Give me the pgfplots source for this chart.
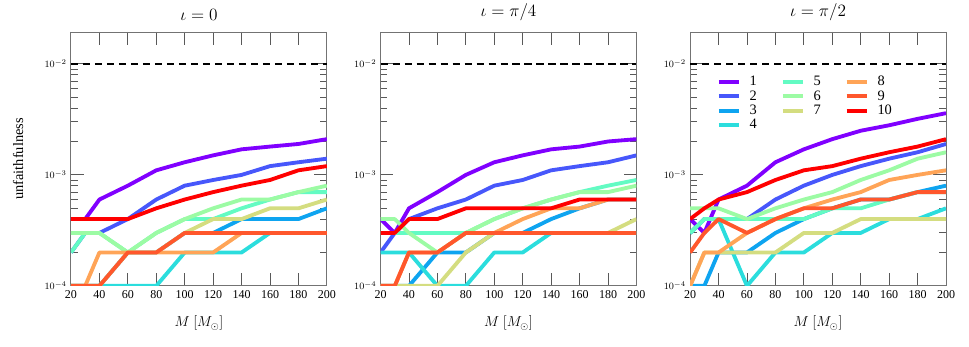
\documentclass[border=0pt]{standalone}
\usepackage{fontspec}
\setmainfont{Liberation Serif}
\usepackage{pgfplots}
\usepackage{pgfplotstable}
\pgfplotsset{compat=1.18}
\usepgfplotslibrary{groupplots}

% matplotlib "rainbow", 10 samples
\definecolor{c1}{RGB}{128,0,255}
\definecolor{c2}{RGB}{71,87,251}
\definecolor{c3}{RGB}{14,164,240}
\definecolor{c4}{RGB}{43,221,221}
\definecolor{c5}{RGB}{99,251,195}
\definecolor{c6}{RGB}{156,251,164}
\definecolor{c7}{RGB}{212,221,128}
\definecolor{c8}{RGB}{255,164,87}
\definecolor{c9}{RGB}{255,87,44}
\definecolor{c10}{RGB}{255,0,0}

% iota = 0
\pgfplotstableread{
M   c1     c2     c3    c4    c5    c6    c7    c8    c9    c10
20  4e-4   2e-4   1e-4  1e-4  2e-4  3e-4  1e-4  1e-4  1e-4  4e-4
30  4e-4   3e-4   1e-4  1e-4  3e-4  3e-4  1e-4  1e-4  1e-4  4e-4
40  6e-4   3e-4   1e-4  1e-4  3e-4  3e-4  1e-4  2e-4  1e-4  4e-4
60  8e-4   4e-4   2e-4  1e-4  2e-4  2e-4  2e-4  2e-4  2e-4  4e-4
80  11e-4  6e-4   2e-4  1e-4  3e-4  3e-4  2e-4  2e-4  2e-4  5e-4
100 13e-4  8e-4   3e-4  2e-4  4e-4  4e-4  3e-4  2e-4  3e-4  6e-4
120 15e-4  9e-4   3e-4  2e-4  4e-4  5e-4  4e-4  2e-4  3e-4  7e-4
140 17e-4  10e-4  4e-4  2e-4  5e-4  6e-4  4e-4  3e-4  3e-4  8e-4
160 18e-4  12e-4  4e-4  3e-4  6e-4  6e-4  5e-4  3e-4  3e-4  9e-4
180 19e-4  13e-4  4e-4  3e-4  7e-4  7e-4  5e-4  3e-4  3e-4  11e-4
200 21e-4  14e-4  5e-4  3e-4  7e-4  8e-4  6e-4  3e-4  3e-4  12e-4
}\iotazero

% iota = pi/4
\pgfplotstableread{
M   c1     c2     c3    c4    c5    c6    c7    c8    c9    c10
20  4e-4   2e-4   1e-4  2e-4  3e-4  4e-4  1e-4  1e-4  1e-4  3e-4
30  3e-4   3e-4   1e-4  2e-4  3e-4  4e-4  1e-4  1e-4  1e-4  3e-4
40  5e-4   4e-4   1e-4  2e-4  3e-4  3e-4  1e-4  2e-4  2e-4  4e-4
60  7e-4   5e-4   2e-4  1e-4  3e-4  2e-4  1e-4  2e-4  2e-4  4e-4
80  10e-4  6e-4   2e-4  1e-4  3e-4  3e-4  2e-4  3e-4  3e-4  5e-4
100 13e-4  8e-4   3e-4  2e-4  4e-4  4e-4  3e-4  3e-4  3e-4  5e-4
120 15e-4  9e-4   3e-4  2e-4  5e-4  5e-4  3e-4  4e-4  3e-4  5e-4
140 17e-4  11e-4  4e-4  3e-4  6e-4  6e-4  3e-4  5e-4  3e-4  5e-4
160 18e-4  12e-4  5e-4  3e-4  7e-4  7e-4  3e-4  5e-4  3e-4  6e-4
180 20e-4  13e-4  6e-4  3e-4  8e-4  7e-4  3e-4  6e-4  3e-4  6e-4
200 21e-4  15e-4  6e-4  3e-4  9e-4  8e-4  4e-4  6e-4  3e-4  6e-4
}\iotaquarter

% iota = pi/2
\pgfplotstableread{
M   c1     c2     c3    c4    c5    c6     c7    c8     c9    c10
20  4e-4   3e-4   1e-4  3e-4  3e-4  5e-4   1e-4  1e-4   2e-4  4e-4
30  3e-4   4e-4   1e-4  4e-4  4e-4  5e-4   2e-4  2e-4   3e-4  5e-4
40  6e-4   4e-4   2e-4  4e-4  4e-4  5e-4   2e-4  2e-4   4e-4  6e-4
60  8e-4   4e-4   2e-4  1e-4  4e-4  4e-4   2e-4  3e-4   3e-4  7e-4
80  13e-4  6e-4   3e-4  2e-4  4e-4  5e-4   2e-4  4e-4   4e-4  9e-4
100 17e-4  8e-4   4e-4  2e-4  4e-4  6e-4   3e-4  5e-4   5e-4  11e-4
120 21e-4  10e-4  5e-4  3e-4  5e-4  7e-4   3e-4  6e-4   5e-4  12e-4
140 25e-4  12e-4  6e-4  3e-4  5e-4  9e-4   4e-4  7e-4   6e-4  14e-4
160 28e-4  14e-4  6e-4  4e-4  6e-4  11e-4  4e-4  9e-4   6e-4  16e-4
180 32e-4  16e-4  7e-4  4e-4  7e-4  14e-4  4e-4  10e-4  7e-4  18e-4
200 36e-4  19e-4  8e-4  5e-4  7e-4  16e-4  4e-4  11e-4  7e-4  21e-4
}\iotahalf

\newcommand{\tencurves}[1]{%
  \addplot[c1, forget plot] table[x=M, y=c1] {#1};
  \addplot[c2, forget plot] table[x=M, y=c2] {#1};
  \addplot[c3, forget plot] table[x=M, y=c3] {#1};
  \addplot[c4, forget plot] table[x=M, y=c4] {#1};
  \addplot[c5, forget plot] table[x=M, y=c5] {#1};
  \addplot[c6, forget plot] table[x=M, y=c6] {#1};
  \addplot[c7, forget plot] table[x=M, y=c7] {#1};
  \addplot[c8, forget plot] table[x=M, y=c8] {#1};
  \addplot[c9, forget plot] table[x=M, y=c9] {#1};
  \addplot[c10, forget plot] table[x=M, y=c10] {#1};
}
\newcommand{\threshold}{%
  \addplot[black, line width=1.2pt, dash pattern=on 6pt off 4pt, forget plot]
    coordinates {(20,1e-2) (200,1e-2)};
}

\begin{document}
\begin{tikzpicture}
\begin{groupplot}[
  group style={group size=3 by 1, horizontal sep=44.75pt},
  width=213.33pt, height=211.67pt, scale only axis,
  ymode=log,
  xmin=20, xmax=200, ymin=1e-4, ymax=0.0194,
  xtick={20,40,...,200},
  ytick={1e-4,1e-3,1e-2},
  major tick length=10.5pt, minor tick length=5.6pt,
  every tick/.style={black!65, line width=0.8pt},
  axis line style={black!55, line width=0.8pt},
  xticklabel style={font=\normalsize, /pgf/number format/assume math mode=true},
  yticklabel style={font=\footnotesize},
  xlabel={$M\ [M_\odot]$},
  label style={font=\large},
  xlabel shift=8pt, ylabel shift=11pt,
  title style={font=\fontsize{13.5}{16}\selectfont},
  every axis plot/.append style={line width=3.2pt, line join=round},
]
\nextgroupplot[title={$\iota = 0$}, ylabel={unfaithfulness}]
\threshold
\tencurves{\iotazero}

\nextgroupplot[title={$\iota = \pi/4$}]
\threshold
\tencurves{\iotaquarter}

\nextgroupplot[title={$\iota = \pi/2$},
  legend columns=3, legend cell align=left,
  legend style={draw=none, fill=none, at={(0.09,0.845)}, anchor=north west,
    font=\large, row sep=-1.5pt,
    /tikz/every odd column/.append style={column sep=5pt},
    /tikz/every even column/.append style={column sep=18pt}}]
\threshold
\tencurves{\iotahalf}
% legend filled row by row: columns hold 1-4, 5-7, 8-10
\addlegendimage{c1, line width=3.2pt}\addlegendentry{1}
\addlegendimage{c5, line width=3.2pt}\addlegendentry{5}
\addlegendimage{c8, line width=3.2pt}\addlegendentry{8}
\addlegendimage{c2, line width=3.2pt}\addlegendentry{2}
\addlegendimage{c6, line width=3.2pt}\addlegendentry{6}
\addlegendimage{c9, line width=3.2pt}\addlegendentry{9}
\addlegendimage{c3, line width=3.2pt}\addlegendentry{3}
\addlegendimage{c7, line width=3.2pt}\addlegendentry{7}
\addlegendimage{c10, line width=3.2pt}\addlegendentry{10}
\addlegendimage{c4, line width=3.2pt}\addlegendentry{4}
\end{groupplot}
\pgfresetboundingbox
\path[use as bounding box]
  ([shift={(-59.17pt,26.67pt)}]group c1r1.north west) rectangle
  ([shift={(19.17pt,-50.83pt)}]group c3r1.south east);
\end{tikzpicture}
\end{document}
